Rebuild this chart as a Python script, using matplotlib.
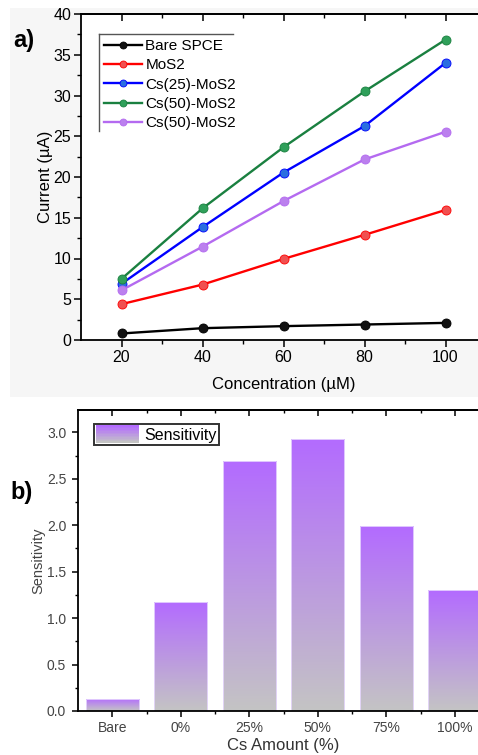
import numpy as np
import matplotlib
matplotlib.use('Agg')
import matplotlib.pyplot as plt
import matplotlib.patches as mpatches
from matplotlib.legend_handler import HandlerBase
from matplotlib.colors import LinearSegmentedColormap

plt.rcParams['font.family'] = ['Liberation Sans', 'DejaVu Sans']

# ── Data ─────────────────────────────────────────────────────────────────────
conc = [20, 40, 60, 80, 100]
bare_spce = [0.8, 1.45, 1.7, 1.9, 2.1]
mos2 = [4.4, 6.8, 9.95, 12.9, 15.95]
cs25_mos2 = [6.9, 13.85, 20.55, 26.25, 34.0]
cs50_mos2 = [7.5, 16.15, 23.65, 30.5, 36.85]
cs50b_mos2 = [6.1, 11.45, 17.05, 22.15, 25.55]
series_names = ['Bare SPCE', 'MoS2', 'Cs(25)-MoS2', 'Cs(50)-MoS2', 'Cs(50)-MoS2']

cs_amount = ['Bare', '0%', '25%', '50%', '75%', '100%']
sensitivity = [0.13, 1.17, 2.69, 2.93, 1.99, 1.30]

# ── Colours ──────────────────────────────────────────────────────────────────
LINE_C = ['#000000', '#ff0000', '#0000ff', '#1a8040', '#b46af0']
MARK_C = ['#111111', '#f05050', '#2a6ee0', '#2fa05a', '#bb80ee']
PURPLE = np.array([179, 107, 255]) / 255
GRAY = np.array([196, 196, 196]) / 255
grad_cmap = LinearSegmentedColormap.from_list('pg', [GRAY, PURPLE])

W, H = 478, 755
fig = plt.figure(figsize=(W / 100, H / 100), dpi=100)
fig.patch.set_facecolor('white')

# light grey background behind panel a
fig.patches.append(mpatches.Rectangle((10 / W, 1 - 397 / H), 468 / W, 389 / H,
                                      transform=fig.transFigure, facecolor='#f6f6f6',
                                      edgecolor='none', zorder=-1))


def fig_axes(x0, y0, x1, y1):
    return fig.add_axes([x0 / W, 1 - y1 / H, (x1 - x0) / W, (y1 - y0) / H])


def top_ticks(ax, major, minor, length):
    # Origin-style top axis: ticks pointing inward, no labels
    sec = ax.secondary_xaxis('top')
    sec.set_xticks(major)
    sec.set_xticks(minor, minor=True)
    sec.tick_params(which='major', direction='in', length=length, width=1.1,
                    labeltop=False)
    sec.tick_params(which='minor', direction='in', length=length * 0.6, width=1)
    sec.spines['top'].set_linewidth(1.3)


# ── Panel a ──────────────────────────────────────────────────────────────────
ax1 = fig_axes(81, 14, 486, 340)
ax1.set_facecolor('white')
all_series = [bare_spce, mos2, cs25_mos2, cs50_mos2, cs50b_mos2]
for vals, name, lc, mc in zip(all_series, series_names, LINE_C, MARK_C):
    ax1.plot(conc, vals, color=lc, lw=1.7, marker='o', ms=6.5,
             markerfacecolor=mc, markeredgecolor=lc, markeredgewidth=0.6,
             label=name, zorder=3)

ax1.set_xlim(10, 110)
ax1.set_ylim(0, 40)
ax1.set_xticks(conc)
ax1.set_xticks([30, 50, 70, 90], minor=True)
ax1.set_yticks(range(0, 41, 5))
ax1.set_yticks(np.arange(2.5, 40, 5), minor=True)
ax1.spines['right'].set_visible(False)
for s in ax1.spines.values():
    s.set_linewidth(1.3)
ax1.tick_params(axis='both', which='major', direction='out', length=5, width=1.1,
                labelsize=11.5, pad=2)
ax1.tick_params(axis='both', which='minor', direction='out', length=3, width=1)
top_ticks(ax1, conc, [30, 50, 70, 90], 5)
ax1.set_xlabel('Concentration (µM)', fontsize=12, labelpad=9)
ax1.set_ylabel('Current (µA)', fontsize=12, labelpad=0)

leg1 = ax1.legend(loc='upper left', bbox_to_anchor=(0.044, 0.94), fontsize=11,
                  frameon=False, handlelength=2.5, numpoints=1, labelspacing=0.35,
                  handletextpad=0.2, borderpad=0.35, borderaxespad=0)
for h in leg1.legend_handles:
    h.set_markersize(5)
# top and left frame lines of the legend
ax1.plot([0.044, 0.375], [0.94, 0.94], transform=ax1.transAxes, color='#555555', lw=1.0, zorder=4)
ax1.plot([0.044, 0.044], [0.94, 0.64], transform=ax1.transAxes, color='#555555', lw=1.0, zorder=4)

fig.text(13 / W, 1 - 40 / H, 'a)', fontsize=17, fontweight='bold', va='center')

# ── Panel b ──────────────────────────────────────────────────────────────────
ax2 = fig_axes(78, 410, 489, 711)
xpos = np.arange(len(cs_amount))
bars = ax2.bar(xpos, sensitivity, width=0.78, color='none', edgecolor='#e8d8ff',
               lw=0.6, zorder=2)
grad = np.linspace(0, 1, 256).reshape(-1, 1)
for b in bars:
    x0, y0 = b.get_x(), b.get_y()
    im = ax2.imshow(grad, cmap=grad_cmap, origin='lower', aspect='auto',
                    extent=(x0, x0 + b.get_width(), y0, y0 + b.get_height()), zorder=1)
    im.set_clip_path(b)

ax2.set_xlim(-0.5, 5.5)
ax2.set_ylim(0, 3.24)
ax2.set_xticks(xpos)
ax2.set_xticklabels(cs_amount)
ax2.set_xticks(xpos[:-1] + 0.5, minor=True)
ax2.set_yticks(np.arange(0, 3.01, 0.5))
ax2.set_yticks(np.arange(0.25, 3.24, 0.5), minor=True)
ax2.spines['right'].set_visible(False)
for s in ax2.spines.values():
    s.set_linewidth(1.3)
ax2.tick_params(axis='both', which='major', direction='out', length=4, width=1.1,
                labelsize=10, labelcolor='#444444')
ax2.tick_params(axis='x', which='major', pad=3)
ax2.tick_params(axis='y', which='major', pad=4.5)
ax2.tick_params(axis='both', which='minor', direction='out', length=2.5, width=1)
top_ticks(ax2, xpos, xpos[:-1] + 0.5, 4)
ax2.set_xlabel('Cs Amount (%)', fontsize=12, color='#333333', labelpad=2.5)
ax2.set_ylabel('Sensitivity', fontsize=10.5, color='#444444', labelpad=1)


class GradientHandler(HandlerBase):
    def create_artists(self, legend, orig_handle, xdescent, ydescent, width, height,
                       fontsize, trans):
        n = 12
        arts = []
        for i in range(n):
            c = grad_cmap(i / (n - 1))
            arts.append(mpatches.Rectangle((-xdescent, -ydescent + i * height / n), width,
                                           height / n + 0.3, facecolor=c, edgecolor='none',
                                           transform=trans))
        return arts


proxy = mpatches.Rectangle((0, 0), 1, 1)
leg2 = ax2.legend([proxy], ['Sensitivity'], handler_map={mpatches.Rectangle: GradientHandler()},
                  loc='upper left', bbox_to_anchor=(0.04, 0.955), fontsize=11.5,
                  handlelength=2.7, handleheight=1.3, borderpad=0.12,
                  handletextpad=0.3, borderaxespad=0, fancybox=False)
leg2.get_frame().set_edgecolor('black')
leg2.get_frame().set_linewidth(1.4)

fig.text(10 / W, 1 - 492 / H, 'b)', fontsize=17, fontweight='bold', va='center')

fig.savefig('out.png', dpi=100)
